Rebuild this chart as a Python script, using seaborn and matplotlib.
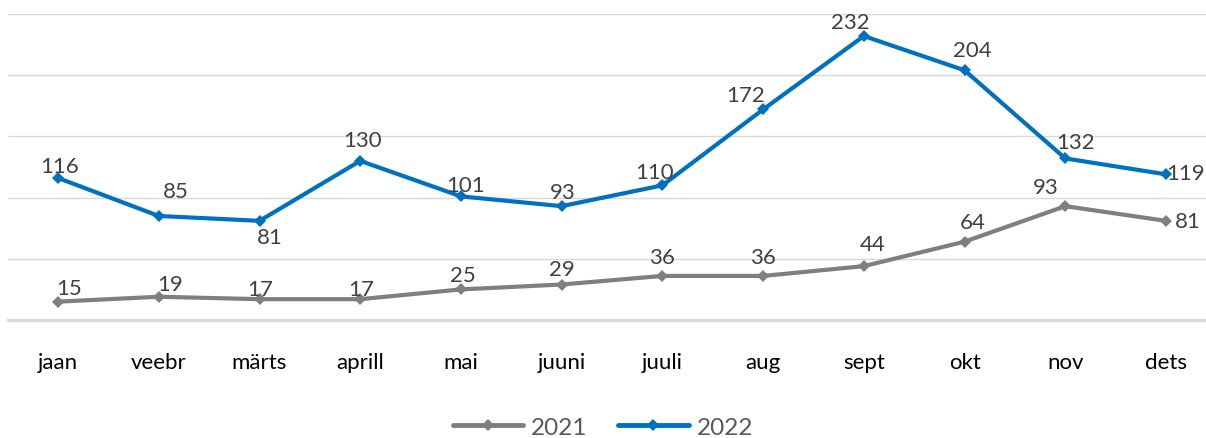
import matplotlib
matplotlib.use("Agg")
import matplotlib.pyplot as plt
from matplotlib.lines import Line2D
import seaborn as sns
import pandas as pd

# data
kuud = ["jaan", "veebr", "märts", "aprill", "mai", "juuni",
        "juuli", "aug", "sept", "okt", "nov", "dets"]
v2021 = [15, 19, 17, 17, 25, 29, 36, 36, 44, 64, 93, 81]
v2022 = [116, 85, 81, 130, 101, 93, 110, 172, 232, 204, 132, 119]

# label offsets in pixels (dx, dy), positioning only
off2021 = [(11, 14), (11, 13), (1, 10), (1, 10), (2, 14), (0, 16),
           (0, 19), (0, 19), (9, 22), (8, 20), (-20, 19), (22, 0)]
off2022 = [(2, 12), (17, 25), (10, -16), (2, 21), (5, 11), (1, 14),
           (-8, 13), (-18, 14), (-14, 14), (8, 20), (10, 16), (20, 1)]

sns.set_style("white")
plt.rcParams["font.family"] = ["Lato", "DejaVu Sans"]

df = pd.DataFrame({
    "kuu": kuud * 2,
    "arv": v2021 + v2022,
    "aasta": ["2021"] * 12 + ["2022"] * 12,
})
colors = {"2021": "#7f7f7f", "2022": "#0070c0"}

fig = plt.figure(figsize=(12.06, 4.39), dpi=100)
ax = fig.add_axes([7.7 / 1206, 118 / 439, (1206 - 7.7) / 1206, 306 / 439])

sns.lineplot(data=df, x="kuu", y="arv", hue="aasta", palette=colors,
             marker="D", markersize=6, markeredgewidth=0, linewidth=3,
             sort=False, legend=False, ax=ax)

ax.set_xlim(-0.5, 11.397)
ax.set_ylim(0, 250)
ax.set_yticks([50, 100, 150, 200, 250])
ax.yaxis.grid(True, color="#d9d9d9", linewidth=1)
ax.set_yticklabels([])
ax.tick_params(axis="y", length=0)
ax.tick_params(axis="x", length=0, labelsize=16, colors="black", pad=23)
ax.set_xlabel("")
ax.set_ylabel("")
for s in ["top", "right", "left"]:
    ax.spines[s].set_visible(False)
ax.spines["bottom"].set_color("#d9d9d9")
ax.spines["bottom"].set_linewidth(2.5)

for vals, offs in [(v2021, off2021), (v2022, off2022)]:
    for i, (v, o) in enumerate(zip(vals, offs)):
        ax.annotate(str(v), (i, v), xytext=o, textcoords="offset pixels",
                    ha="center", va="center", fontsize=16, color="#404040")

handles = [Line2D([], [], color=colors[k], linewidth=3.5, marker="D",
                  markersize=6, markeredgewidth=0) for k in ["2021", "2022"]]
fig.legend(handles, ["2021", "2022"], loc="center", bbox_to_anchor=(0.5, 11 / 439),
           ncol=2, frameon=False, fontsize=17.5, handlelength=2.9,
           columnspacing=1.25, handletextpad=0.33, labelcolor="#595959")

fig.savefig("out.png", dpi=100)
